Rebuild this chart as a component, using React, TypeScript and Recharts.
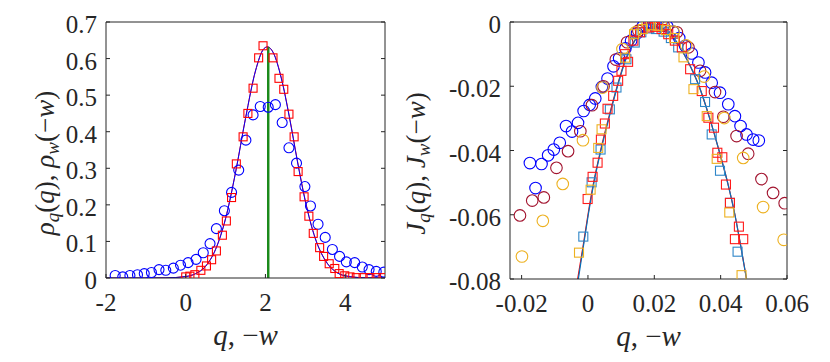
import React from 'react';
import { ComposedChart, XAxis, YAxis, Scatter, Line } from 'recharts';

// ---------- Left panel data ----------
const leftXTicks = [-2, 0, 2, 4];
const leftXTickLabels = ['-2', '0', '2', '4'];
const leftYTicks = [0, 0.1, 0.2, 0.3, 0.4, 0.5, 0.6, 0.7];
const leftYTickLabels = ['0', '0.1', '0.2', '0.3', '0.4', '0.5', '0.6', '0.7'];

const rhoQCircles: number[][] = [
  [-1.77, 0.007], [-1.58, 0.003], [-1.4, 0.007], [-1.21, 0.009], [-1.04, 0.012], [-0.86, 0.015],
  [-0.67, 0.023], [-0.5, 0.021], [-0.31, 0.027], [-0.13, 0.035], [0.06, 0.042], [0.26, 0.051],
  [0.44, 0.069], [0.61, 0.094], [0.77, 0.135], [0.97, 0.184], [1.15, 0.234], [1.33, 0.295],
  [1.51, 0.377], [1.69, 0.446], [1.87, 0.469], [2.07, 0.467], [2.25, 0.474], [2.42, 0.425],
  [2.59, 0.356], [2.78, 0.314], [2.99, 0.25], [3.13, 0.197], [3.32, 0.147], [3.5, 0.111],
  [3.68, 0.078], [3.86, 0.059], [4.03, 0.044], [4.24, 0.042], [4.43, 0.03], [4.6, 0.023],
  [4.78, 0.018], [4.97, 0.016],
];

const rhoWSquares: number[][] = [
  [0.0, 0.003], [0.105, 0.005], [0.23, 0.009], [0.38, 0.021], [0.52, 0.033], [0.65, 0.05],
  [0.77, 0.074], [0.92, 0.117], [1.02, 0.156], [1.15, 0.22], [1.27, 0.312], [1.44, 0.386],
  [1.56, 0.45], [1.69, 0.519], [1.83, 0.602], [1.94, 0.635], [2.19, 0.602], [2.34, 0.546],
  [2.46, 0.516], [2.59, 0.448], [2.72, 0.386], [2.82, 0.291], [2.97, 0.222], [3.09, 0.169],
  [3.2, 0.122], [3.36, 0.083], [3.46, 0.059], [3.6, 0.039], [3.74, 0.026], [3.85, 0.012],
  [3.99, 0.006], [4.12, 0.003], [4.28, 0.001], [4.45, 0.001], [4.62, 0.001], [4.78, 0.001],
  [4.95, 0.001],
];

const rhoFitBlue: number[][] = [
  [-2, 0], [-1, 0], [-0.5, 0.0003], [0, 0.004], [0.25, 0.012], [0.5, 0.032], [0.75, 0.078],
  [1, 0.162], [1.25, 0.288], [1.5, 0.436], [1.75, 0.566], [1.95, 0.625], [2.05, 0.632],
  [2.2, 0.615], [2.4, 0.545], [2.6, 0.44], [2.8, 0.32], [3, 0.21], [3.25, 0.108], [3.5, 0.048],
  [3.75, 0.018], [4, 0.006], [4.5, 0.0005], [5, 0],
];

const rhoFitRed: number[][] = [
  [-2, 0], [-1, 0], [-0.5, 0.0003], [0, 0.004], [0.25, 0.012], [0.5, 0.033], [0.75, 0.079],
  [1, 0.163], [1.25, 0.289], [1.5, 0.437], [1.75, 0.566], [1.95, 0.626], [2.05, 0.632],
  [2.2, 0.616], [2.4, 0.547], [2.6, 0.442], [2.8, 0.322], [3, 0.212], [3.25, 0.109], [3.5, 0.049],
  [3.75, 0.018], [4, 0.006], [4.5, 0.0005], [5, 0],
];

const meanMarker: number[][] = [[2.07, 0], [2.07, 0.632]];

// ---------- Right panel data ----------
const rightXTicks = [-0.02, 0, 0.02, 0.04, 0.06];
const rightXTickLabels = ['-0.02', '0', '0.02', '0.04', '0.06'];
const rightYTicks = [-0.08, -0.06, -0.04, -0.02, 0];
const rightYTickLabels = ['-0.08', '-0.06', '-0.04', '-0.02', '0'];

const jqBlueCircles: number[][] = [
  [-0.0175, -0.0439], [-0.0158, -0.0517], [-0.014, -0.0442], [-0.012, -0.0415], [-0.0103, -0.0397],
  [-0.0085, -0.0376], [-0.0066, -0.0324], [-0.0048, -0.0341], [-0.003, -0.0314], [-0.0013, -0.0277],
  [0.0005, -0.0258], [0.0022, -0.0238], [0.0042, -0.0202], [0.0059, -0.0176], [0.0077, -0.0138],
  [0.0094, -0.0113], [0.0113, -0.0082], [0.013, -0.0058], [0.0148, -0.0035], [0.0166, -0.0012],
  [0.0185, -0.0004], [0.0203, -0.0002], [0.0221, -0.0004], [0.0239, -0.0014], [0.0257, -0.003],
  [0.0275, -0.005], [0.0293, -0.0074], [0.0313, -0.0098], [0.0333, -0.0126], [0.0353, -0.0157],
  [0.0373, -0.0189], [0.0398, -0.022], [0.0423, -0.0256], [0.0443, -0.0293], [0.046, -0.0324],
  [0.0478, -0.035], [0.0498, -0.0366], [0.0515, -0.0369],
];

const jqRedCircles: number[][] = [
  [-0.0205, -0.0602], [-0.0168, -0.0556], [-0.0133, -0.0546], [-0.0095, -0.0454], [-0.006, -0.0402],
  [-0.0023, -0.034], [0.0012, -0.0259], [0.0047, -0.02], [0.0084, -0.0117], [0.0118, -0.0063],
  [0.0152, -0.0027], [0.0192, -0.0006], [0.0228, -0.0011], [0.0268, -0.0032], [0.0303, -0.0079],
  [0.0338, -0.0152], [0.0383, -0.0218], [0.0408, -0.0295], [0.0448, -0.0355], [0.0483, -0.041],
  [0.0523, -0.0489], [0.0558, -0.0532], [0.0593, -0.0564],
];

const jqOrangeCircles: number[][] = [
  [-0.0199, -0.073], [-0.0136, -0.0619], [-0.0076, -0.0504], [-0.0015, -0.0368], [0.0044, -0.0204],
  [0.0104, -0.0084], [0.0143, -0.0032], [0.018, -0.0008], [0.022, -0.001], [0.0258, -0.003],
  [0.0296, -0.0073], [0.035, -0.017], [0.0411, -0.0299], [0.0468, -0.0423], [0.0528, -0.0576],
  [0.059, -0.0678],
];

const jwRedSquares: number[][] = [
  [-0.0001, -0.0551], [0.0014, -0.0482], [0.0029, -0.0438], [0.0039, -0.0366], [0.0051, -0.0316],
  [0.0059, -0.027], [0.0076, -0.023], [0.0091, -0.0183], [0.0101, -0.0152], [0.0121, -0.0124],
  [0.0112, -0.01], [0.0137, -0.0058], [0.0157, -0.0032], [0.0182, -0.0017], [0.0202, -0.0015],
  [0.0222, -0.0022], [0.0242, -0.0038], [0.0262, -0.0058], [0.0283, -0.0079], [0.0308, -0.0147],
  [0.0343, -0.0215], [0.0363, -0.0298], [0.038, -0.0329], [0.039, -0.0407], [0.0405, -0.0421],
  [0.0416, -0.0506], [0.0428, -0.0563], [0.0455, -0.0637], [0.0443, -0.0676], [0.0468, -0.0676],
];

const jwBlueSquares: number[][] = [
  [-0.0014, -0.0668], [0.0011, -0.0499], [0.0038, -0.0397], [0.0066, -0.0272], [0.0086, -0.0204],
  [0.0116, -0.0116], [0.0141, -0.0064], [0.0161, -0.0032], [0.0185, -0.002], [0.0205, -0.0022],
  [0.0228, -0.003], [0.025, -0.005], [0.0272, -0.0079], [0.0323, -0.0178], [0.0353, -0.0249],
  [0.0373, -0.035], [0.0398, -0.0463], [0.0428, -0.0563], [0.0451, -0.0715],
];

const jwOrangeSquares: number[][] = [
  [-0.0027, -0.0718], [0.0008, -0.0522], [0.0031, -0.0392], [0.0041, -0.0334], [0.0112, -0.0111],
  [0.0139, -0.0038], [0.0165, -0.0022], [0.019, -0.001], [0.0212, -0.0012], [0.0235, -0.0025],
  [0.026, -0.005], [0.0288, -0.011], [0.0318, -0.0209], [0.0358, -0.0293], [0.0388, -0.0426],
  [0.0426, -0.0593], [0.0463, -0.0788],
];

const jFitRed: number[][] = [
  [-0.0031, -0.08], [-0.0015, -0.07], [0.0, -0.06], [0.0017, -0.05], [0.0038, -0.04], [0.0062, -0.03],
  [0.0088, -0.02], [0.0112, -0.012], [0.014, -0.006], [0.0168, -0.0026], [0.02, -0.0015],
  [0.0234, -0.0026], [0.0266, -0.006], [0.03, -0.012], [0.0335, -0.02], [0.0367, -0.03],
  [0.0395, -0.04], [0.0421, -0.05], [0.0443, -0.06], [0.0461, -0.07], [0.0478, -0.08],
];

const jFitBlue: number[][] = [
  [-0.0029, -0.08], [-0.0014, -0.07], [0.0001, -0.06], [0.0018, -0.05], [0.0039, -0.04], [0.0063, -0.03],
  [0.0089, -0.02], [0.0113, -0.012], [0.014, -0.006], [0.0168, -0.0026], [0.02, -0.0016],
  [0.0234, -0.0026], [0.0266, -0.006], [0.03, -0.012], [0.0335, -0.02], [0.0367, -0.03],
  [0.0395, -0.04], [0.0421, -0.05], [0.0443, -0.06], [0.0461, -0.07], [0.0478, -0.08],
];

// ---------- helpers ----------
const toPts = (arr: number[][]) => arr.map(([x, y]) => ({ x, y }));

const AXIS = '#262626';
const FONT = '"Liberation Serif", "Times New Roman", serif';
const TICK_LEN = 4;
const TICK_FS = 25;

const labelFor = (ticks: number[], labels: string[], v: number) => {
  const i = ticks.findIndex((t) => Math.abs(t - v) < 1e-9);
  return i >= 0 ? labels[i] : String(v);
};

const bottomTick = (ticks: number[], labels: string[]) => (p: any) => (
  <g>
    <line x1={p.x} x2={p.x} y1={p.y} y2={p.y - TICK_LEN} stroke={AXIS} strokeWidth={1} />
    <text x={p.x} y={p.y + 33} textAnchor="middle" style={{ fontFamily: FONT }} fontSize={TICK_FS} fill={AXIS}>
      {labelFor(ticks, labels, p.payload.value)}
    </text>
  </g>
);

const leftTick = (ticks: number[], labels: string[]) => (p: any) => (
  <g>
    <line x1={p.x} x2={p.x + TICK_LEN} y1={p.y} y2={p.y} stroke={AXIS} strokeWidth={1} />
    <text x={p.x - 9} y={p.y + 11} textAnchor="end" style={{ fontFamily: FONT }} fontSize={TICK_FS} fill={AXIS}>
      {labelFor(ticks, labels, p.payload.value)}
    </text>
  </g>
);

const topTick = (p: any) => (
  <line x1={p.x} x2={p.x} y1={p.y} y2={p.y + TICK_LEN} stroke={AXIS} strokeWidth={1} />
);
const rightTick = (p: any) => (
  <line x1={p.x} x2={p.x - TICK_LEN} y1={p.y} y2={p.y} stroke={AXIS} strokeWidth={1} />
);

const circleShape = (color: string, r: number) => (p: any) => (
  <circle cx={p.cx} cy={p.cy} r={r} fill="none" stroke={color} strokeWidth={1.1} />
);
const squareShape = (color: string, s: number) => (p: any) => (
  <rect x={p.cx - s / 2} y={p.cy - s / 2} width={s} height={s} fill="none" stroke={color} strokeWidth={1.1} />
);

const xLabel = (props: any) => {
  const vb = props.viewBox;
  const cx = vb.x + vb.width / 2;
  return (
    <text x={cx} y={vb.y + 67} textAnchor="middle" style={{ fontFamily: FONT }} fontSize={29} fill={AXIS}>
      <tspan fontStyle="italic">q</tspan>
      <tspan>, −</tspan>
      <tspan fontStyle="italic">w</tspan>
    </text>
  );
};

const makeYLabel = (sym: string, offset: number) => (props: any) => {
  const vb = props.viewBox;
  const cx = vb.x + vb.width - offset;
  const cy = vb.y + vb.height / 2 + 13;
  return (
    <text x={cx} y={cy} transform={`rotate(-90 ${cx} ${cy})`} textAnchor="middle" style={{ fontFamily: FONT }} fontSize={27} fill={AXIS}>
      <tspan fontStyle="italic">{sym}</tspan>
      <tspan fontStyle="italic" fontSize={19} dy={5}>q</tspan>
      <tspan dy={-5}>(</tspan>
      <tspan fontStyle="italic">q</tspan>
      <tspan>), </tspan>
      <tspan fontStyle="italic">{sym}</tspan>
      <tspan fontStyle="italic" fontSize={19} dy={5}>w</tspan>
      <tspan dy={-5}>(−</tspan>
      <tspan fontStyle="italic">w</tspan>
      <tspan>)</tspan>
    </text>
  );
};

const yLabelRho = makeYLabel('ρ', 52);
const yLabelJ = makeYLabel('J', 85);

const LeftChart = () => (
  <ComposedChart width={400} height={362} margin={{ top: 21, right: 14, bottom: 24, left: 6 }}>
    <XAxis
      type="number" dataKey="x" domain={[-2, 5]} ticks={leftXTicks} allowDataOverflow
      height={60} tickSize={0} tickMargin={0} tickLine={false} interval={0}
      axisLine={{ stroke: AXIS, strokeWidth: 1 }} tick={bottomTick(leftXTicks, leftXTickLabels)}
      label={xLabel}
    />
    <XAxis
      xAxisId="top" orientation="top" type="number" domain={[-2, 5]} ticks={leftXTicks} allowDataOverflow
      height={1} tickSize={0} tickMargin={0} tickLine={false} interval={0}
      axisLine={{ stroke: AXIS, strokeWidth: 1 }} tick={topTick}
    />
    <YAxis
      type="number" dataKey="y" domain={[0, 0.7]} ticks={leftYTicks} allowDataOverflow
      width={100} tickSize={0} tickMargin={0} tickLine={false} interval={0}
      axisLine={{ stroke: AXIS, strokeWidth: 1 }} tick={leftTick(leftYTicks, leftYTickLabels)}
      label={yLabelRho}
    />
    <YAxis
      yAxisId="right" orientation="right" type="number" domain={[0, 0.7]} ticks={leftYTicks} allowDataOverflow
      width={1} tickSize={0} tickMargin={0} tickLine={false} interval={0}
      axisLine={{ stroke: AXIS, strokeWidth: 1 }} tick={rightTick}
    />
    <Scatter data={toPts(rhoQCircles)} shape={circleShape('#0000ff', 5)} isAnimationActive={false} />
    <Scatter data={toPts(rhoWSquares)} shape={squareShape('#ff0000', 8)} isAnimationActive={false} />
    <Line data={toPts(rhoFitRed)} dataKey="y" type="monotone" stroke="#ff0000" strokeWidth={1} dot={false} activeDot={false} isAnimationActive={false} />
    <Line data={toPts(rhoFitBlue)} dataKey="y" type="monotone" stroke="#0000ff" strokeWidth={1} dot={false} activeDot={false} isAnimationActive={false} />
    <Line data={toPts(meanMarker)} dataKey="y" type="linear" stroke="#1b8a1b" strokeWidth={2.5} dot={false} activeDot={false} isAnimationActive={false} />
  </ComposedChart>
);

const RightChart = () => (
  <ComposedChart width={450} height={362} margin={{ top: 21, right: 42, bottom: 23, left: 40 }}>
    <XAxis
      type="number" dataKey="x" domain={[-0.0235, 0.06]} ticks={rightXTicks} allowDataOverflow
      height={60} tickSize={0} tickMargin={0} tickLine={false} interval={0}
      axisLine={{ stroke: AXIS, strokeWidth: 1 }} tick={bottomTick(rightXTicks, rightXTickLabels)}
      label={xLabel}
    />
    <XAxis
      xAxisId="top" orientation="top" type="number" domain={[-0.0235, 0.06]} ticks={rightXTicks} allowDataOverflow
      height={1} tickSize={0} tickMargin={0} tickLine={false} interval={0}
      axisLine={{ stroke: AXIS, strokeWidth: 1 }} tick={topTick}
    />
    <YAxis
      type="number" dataKey="y" domain={[-0.08, 0]} ticks={rightYTicks} allowDataOverflow
      width={90} tickSize={0} tickMargin={0} tickLine={false} interval={0}
      axisLine={{ stroke: AXIS, strokeWidth: 1 }} tick={leftTick(rightYTicks, rightYTickLabels)}
      label={yLabelJ}
    />
    <YAxis
      yAxisId="right" orientation="right" type="number" domain={[-0.08, 0]} ticks={rightYTicks} allowDataOverflow
      width={1} tickSize={0} tickMargin={0} tickLine={false} interval={0}
      axisLine={{ stroke: AXIS, strokeWidth: 1 }} tick={rightTick}
    />
    <Scatter data={toPts(jqBlueCircles)} shape={circleShape('#0000ff', 5.8)} isAnimationActive={false} />
    <Scatter data={toPts(jqRedCircles)} shape={circleShape('#a2142f', 5.8)} isAnimationActive={false} />
    <Scatter data={toPts(jqOrangeCircles)} shape={circleShape('#edb120', 5.8)} isAnimationActive={false} />
    <Scatter data={toPts(jwBlueSquares)} shape={squareShape('#2e86c8', 9)} isAnimationActive={false} />
    <Scatter data={toPts(jwRedSquares)} shape={squareShape('#ff1a1a', 9)} isAnimationActive={false} />
    <Scatter data={toPts(jwOrangeSquares)} shape={squareShape('#edb120', 9)} isAnimationActive={false} />
    <Line data={toPts(jFitRed)} dataKey="y" type="monotone" stroke="#ff0000" strokeWidth={1.2} dot={false} activeDot={false} isAnimationActive={false} />
    <Line data={toPts(jFitBlue)} dataKey="y" type="monotone" stroke="#0072bd" strokeWidth={1.2} dot={false} activeDot={false} isAnimationActive={false} />
  </ComposedChart>
);

export default function App() {
  return (
    <div style={{ position: 'absolute', left: 0, top: 0, width: 830, height: 362, background: '#fff' }}>
      <div style={{ position: 'absolute', left: 0, top: 0 }}>
        <LeftChart />
      </div>
      <div style={{ position: 'absolute', left: 380, top: 0 }}>
        <RightChart />
      </div>
    </div>
  );
}
